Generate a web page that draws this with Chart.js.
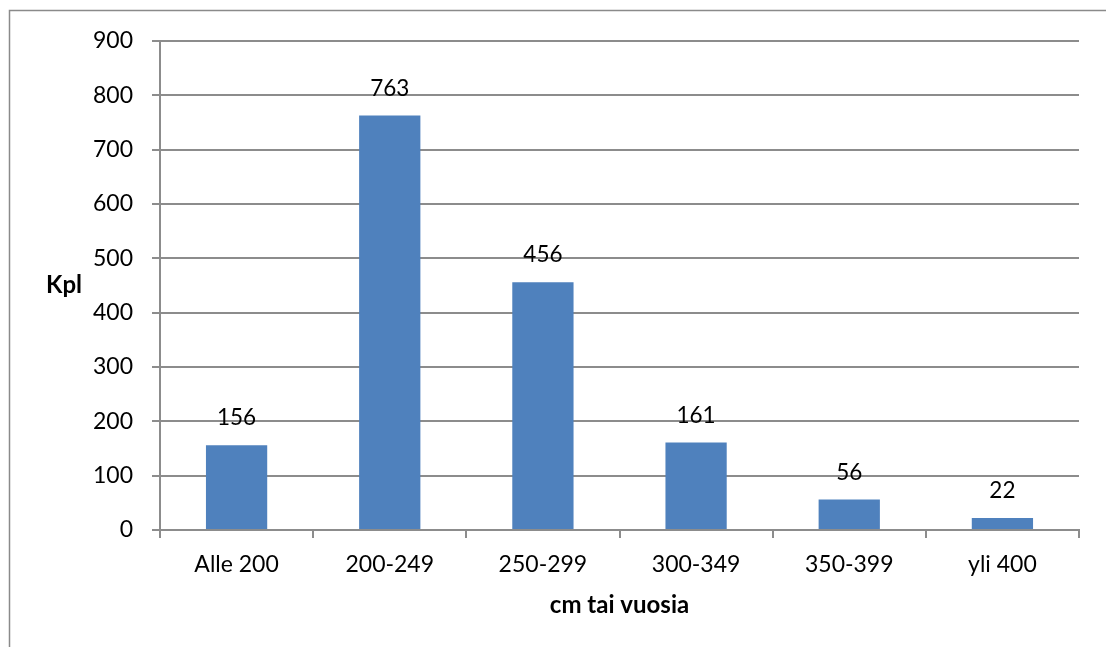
<!DOCTYPE html>
<html>
<head>
<meta charset="utf-8">
<script src="https://cdn.jsdelivr.net/npm/chart.js@4.4.0/dist/chart.umd.min.js"></script>
<style>
html,body{margin:0;padding:0;background:#fff;}
#wrap{position:relative;width:1106px;height:647px;overflow:hidden;}
canvas{display:block;}
</style>
</head>
<body>
<div id="wrap"><canvas id="c" width="1106" height="647"></canvas></div>
<script>
const categories = ["Alle 200", "200-249", "250-299", "300-349", "350-399", "yli 400"];
const values = [156, 763, 456, 161, 56, 22];
const yTicks = [0, 100, 200, 300, 400, 500, 600, 700, 800, 900];
const yTitle = "Kpl";
const xTitle = "cm tai vuosia";

const FONT = "Lato, 'Open Sans', sans-serif";
const GRID = "#8c8c8c";

const extras = {
  id: "extras",
  beforeDraw(chart) {
    const ctx = chart.ctx;
    ctx.save();
    ctx.fillStyle = "#fff";
    ctx.fillRect(0, 0, chart.width, chart.height);
    ctx.strokeStyle = "#8a8a8a";
    ctx.lineWidth = 1.5;
    ctx.beginPath();
    ctx.moveTo(9.5, chart.height + 5);
    ctx.lineTo(9.5, 10.5);
    ctx.lineTo(chart.width + 5, 10.5);
    ctx.stroke();
    ctx.restore();
  },
  afterDraw(chart) {
    const ctx = chart.ctx;
    const meta = chart.getDatasetMeta(0);
    ctx.save();
    ctx.fillStyle = "#000";
    ctx.font = "22.5px " + FONT;
    ctx.textAlign = "center";
    ctx.textBaseline = "middle";
    meta.data.forEach((bar, i) => {
      ctx.fillText(String(values[i]), bar.x, bar.y - 27);
    });
    ctx.font = "bold 24px " + FONT;
    ctx.fillText(yTitle, 64, 285);
    const ca = chart.chartArea;
    ctx.fillText(xTitle, (ca.left + ca.right) / 2, 605);
    ctx.restore();
  }
};

new Chart(document.getElementById("c"), {
  type: "bar",
  data: {
    labels: categories,
    datasets: [{
      data: values,
      backgroundColor: "#4F81BD",
      borderWidth: 0,
      categoryPercentage: 1.0,
      barPercentage: 0.4
    }]
  },
  options: {
    responsive: false,
    animation: false,
    devicePixelRatio: 1,
    layout: { padding: { top: 41, right: 27, left: 0, bottom: 0 } },
    plugins: { legend: { display: false }, tooltip: { enabled: false }, title: { display: false } },
    scales: {
      x: {
        offset: true,
        grid: { display: true, drawOnChartArea: false, drawTicks: true, tickLength: 8, color: GRID, lineWidth: 2, offset: true },
        border: { display: true, color: GRID, width: 2 },
        ticks: { font: { family: FONT, size: 23 }, color: "#000", padding: 13, maxRotation: 0, autoSkip: false },
        afterFit(s) { s.height = 117; }
      },
      y: {
        min: 0,
        max: 900,
        afterBuildTicks(s) { s.ticks = yTicks.map(v => ({ value: v })); },
        grid: { color: GRID, lineWidth: 2, tickLength: 8, drawTicks: true },
        border: { display: true, color: GRID, width: 2 },
        ticks: { font: { family: FONT, size: 23 }, color: "#000", padding: 19 },
        afterFit(s) { s.width = 160; }
      }
    }
  },
  plugins: [extras]
});
</script>
</body>
</html>
